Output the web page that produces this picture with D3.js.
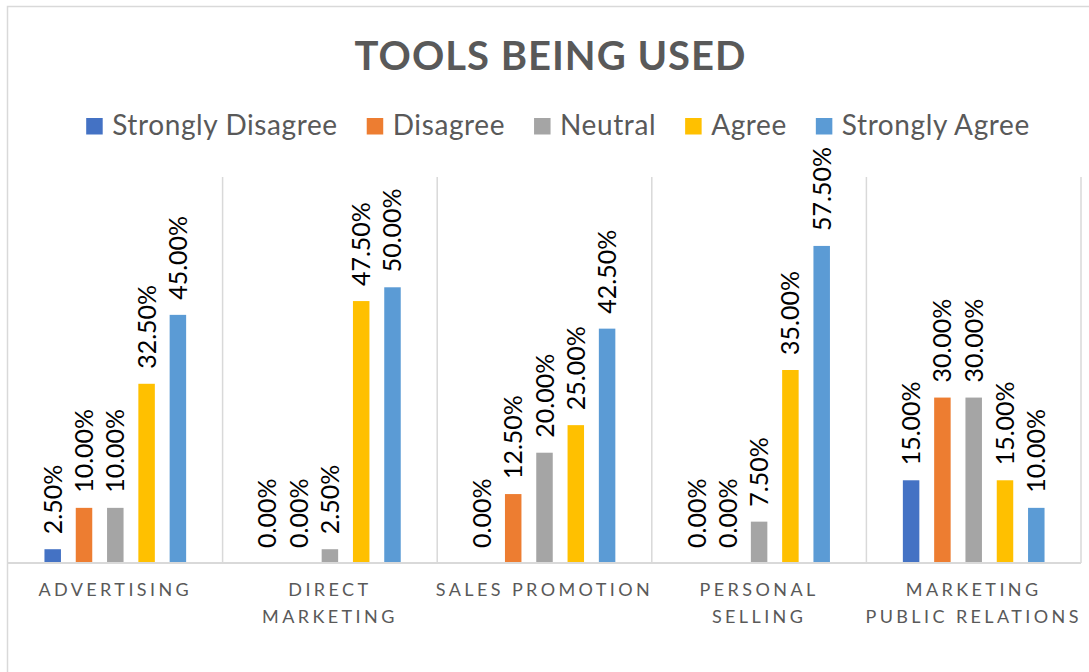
<!DOCTYPE html>
<html>
<head>
<meta charset="utf-8">
<script src="https://d3js.org/d3.v7.min.js"></script>
<style>
body{margin:0;background:#fff;}
text{font-family:Lato,"Open Sans",sans-serif;}
</style>
</head>
<body>
<div id="chart-area"></div>
<script>
// ---------DATA--------------
let categories=["Advertising","Direct Marketing","Sales Promotion","Personal Selling","Marketing Public Relations"];
let tickLines=[["ADVERTISING"],["DIRECT","MARKETING"],["SALES PROMOTION"],["PERSONAL","SELLING"],["MARKETING","PUBLIC RELATIONS"]];
let series=["Strongly Disagree","Disagree","Neutral","Agree","Strongly Agree"];
let stronglyDisagree=[2.5,0,0,0,15];
let disagree=[10,0,12.5,0,30];
let neutral=[10,2.5,20,7.5,30];
let agree=[32.5,47.5,25,35,15];
let stronglyAgree=[45,50,42.5,57.5,10];
let values=[stronglyDisagree,disagree,neutral,agree,stronglyAgree];
let colors=["#4472C4","#ED7D31","#A5A5A5","#FFC000","#5B9BD5"];

let width=1089,height=672;
let plot={left:8,right:1081,top:177,bottom:563};

let svg=d3.select("#chart-area").append('svg')
	.attr('width',width)
	.attr('height',height);

// chart border
svg.append('rect')
	.attr('x',7.5).attr('y',6.5)
	.attr('width',1100).attr('height',700)
	.attr('fill','none')
	.attr('stroke','#d9d9d9')
	.attr('stroke-width',1.5);

//---------SCALES--------------
let x0=d3.scaleBand()
	.domain(categories)
	.range([plot.left,plot.right]);

let x1=d3.scaleBand()
	.domain(series)
	.range([0,x0.bandwidth()])
	.paddingInner(0.473)
	.paddingOuter(1.165);

let y=d3.scaleLinear()
	.domain([0,70])
	.range([plot.bottom,plot.top]);

let color=d3.scaleOrdinal()
	.domain(series)
	.range(colors);

//--------GRID----------------
let bounds=categories.map(c=>x0(c)).concat([plot.right]);
svg.append('g').selectAll('line')
	.data(bounds.slice(1))
	.enter().append('line')
		.attr('x1',d=>d).attr('x2',d=>d)
		.attr('y1',plot.top).attr('y2',plot.bottom)
		.attr('stroke','#d9d9d9')
		.attr('stroke-width',1.5);

//--------BARS----------------
let rows=[];
categories.forEach(function(c,i){
	series.forEach(function(s,j){
		rows.push({category:c,series:s,value:values[j][i]});
	});
});

let bars=svg.append('g').selectAll('rect')
	.data(rows)
	.enter().append('rect')
		.attr('x',d=>x0(d.category)+x1(d.series))
		.attr('y',d=>y(d.value))
		.attr('width',x1.bandwidth())
		.attr('height',d=>y(0)-y(d.value))
		.attr('fill',d=>color(d.series));

// axis line
svg.append('line')
	.attr('x1',plot.left).attr('x2',plot.right)
	.attr('y1',plot.bottom).attr('y2',plot.bottom)
	.attr('stroke','#d9d9d9')
	.attr('stroke-width',2);

//-------DATA LABELS----------
svg.append('g').selectAll('text')
	.data(rows)
	.enter().append('text')
		.attr('transform',function(d){
			let cx=x0(d.category)+x1(d.series)+x1.bandwidth()/2;
			return "translate("+cx+","+(y(d.value)-15)+") rotate(-90)";
		})
		.attr('dy','0.36em')
		.attr('font-size','25px')
		.attr('fill','#000')
		.text(d=>d.value.toFixed(2)+'%');

//------CATEGORY LABELS--------
categories.forEach(function(c,i){
	let cx=x0(c)+x0.bandwidth()/2;
	let t=svg.append('text')
		.attr('y',596)
		.attr('text-anchor','middle')
		.attr('font-size','18px')
		.attr('letter-spacing','3.4px')
		.attr('fill','#595959');
	tickLines[i].forEach(function(line,k){
		t.append('tspan')
			.attr('x',cx)
			.attr('dy',k==0?0:26.7)
			.text(line);
	});
});

//-------TITLE-----------------
svg.append('text')
	.attr('x',550.5)
	.attr('y',70)
	.attr('text-anchor','middle')
	.attr('font-size','40px')
	.attr('font-weight','bold')
	.attr('letter-spacing','1px')
	.attr('fill','#595959')
	.text('TOOLS BEING USED');

//--------LEGEND--------------
let legend=svg.append('g');
let lx=0;
series.forEach(function(s,i){
	let item=legend.append('g')
		.attr('transform',"translate("+lx+",0)");
	item.append('rect')
		.attr('y',118)
		.attr('width',16.5)
		.attr('height',16.5)
		.attr('fill',color(s));
	let label=item.append('text')
		.attr('x',26)
		.attr('y',134.5)
		.attr('font-size','28px')
		.attr('letter-spacing','0.6px')
		.attr('fill','#595959')
		.text(s);
	lx+=26+label.node().getComputedTextLength()+29;
});
let legendWidth=lx-29;
legend.attr('transform',"translate("+(558-legendWidth/2)+",0)");
</script>
</body>
</html>
